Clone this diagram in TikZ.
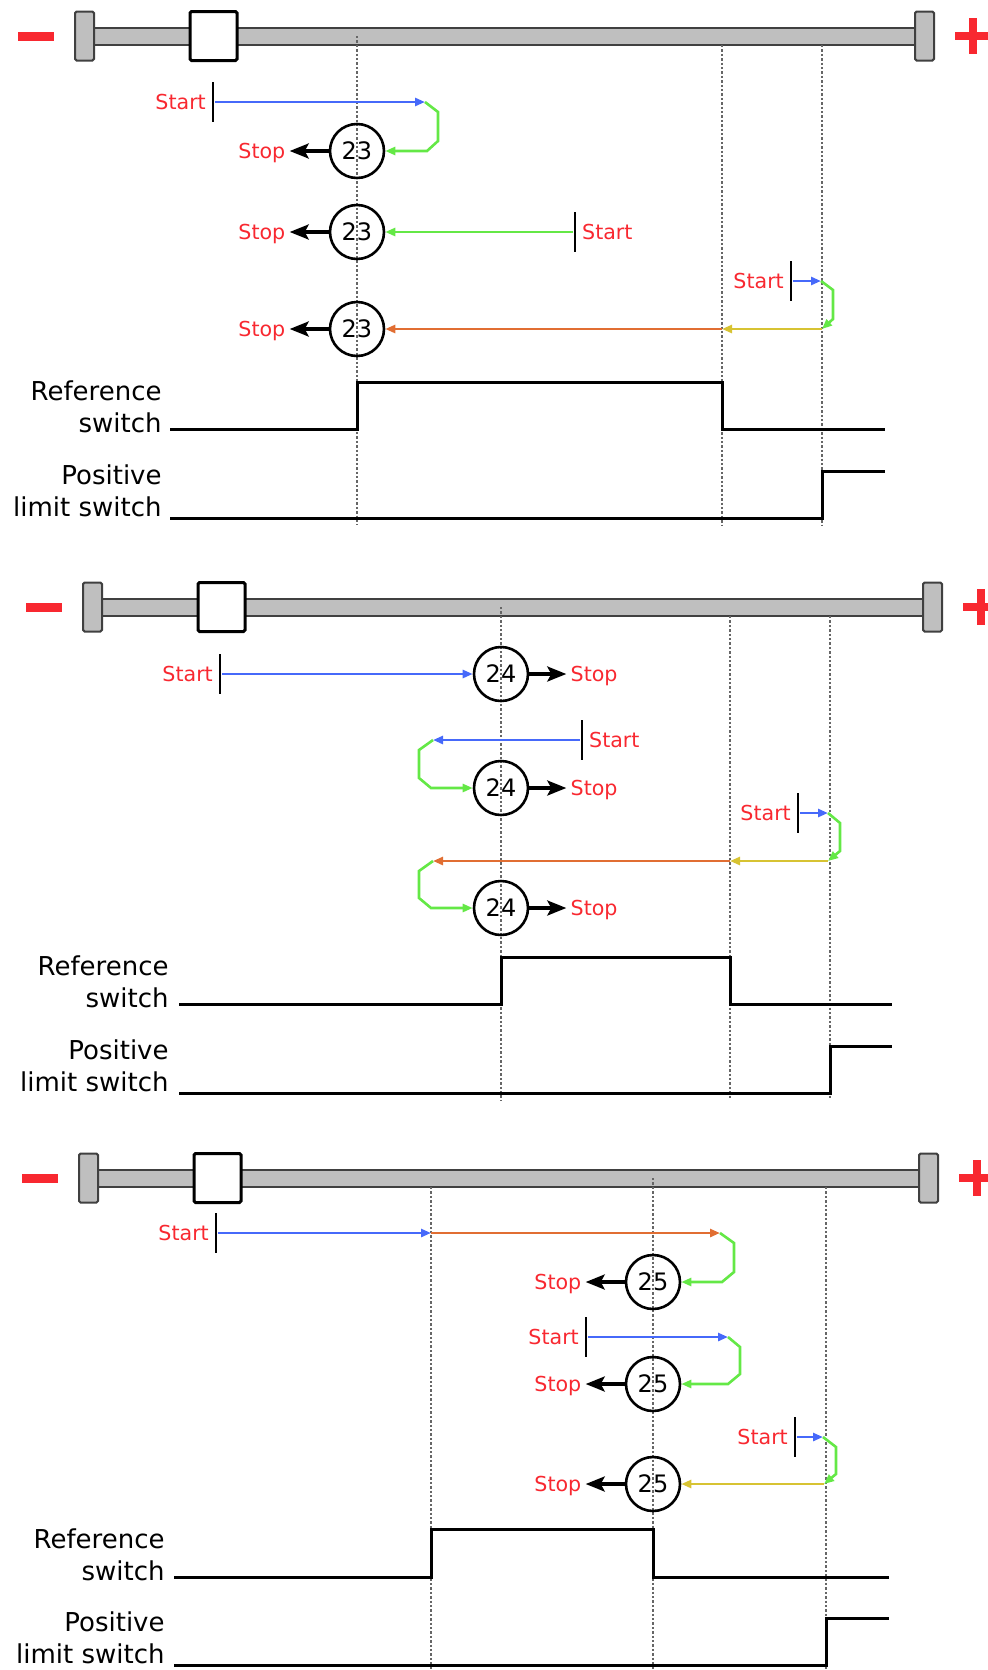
\documentclass[tikz,border=0pt]{standalone}
\usepackage{fontspec}
\setmainfont{DejaVu Sans}
\usetikzlibrary{arrows.meta,positioning}
\definecolor{mvred}{RGB}{248,40,48}
\definecolor{mvblue}{RGB}{70,105,250}
\definecolor{mvgreen}{RGB}{100,232,70}
\definecolor{mvorange}{RGB}{225,110,50}
\definecolor{mvyellow}{RGB}{215,195,50}

\begin{document}
\begin{tikzpicture}[x=0.5pt, y=-0.5pt,
  rail/.style={draw=black!75, fill=black!25, line width=1pt},
  railcap/.style={draw=black!75, fill=black!25, line width=1pt, rounded corners=0.8pt},
  carriage/.style={draw=black, fill=white, line width=1.5pt, rounded corners=0.8pt},
  guide/.style={black!60, line width=0.6pt, dash pattern=on 1.2pt off 1pt},
  signal/.style={line width=1.5pt},
  siglbl/.style={align=right, inner sep=0pt, font=\fontsize{13}{16}\selectfont},
  num/.style={circle, draw, line width=1.3pt, minimum size=27pt, inner sep=0pt, font=\fontsize{12}{12}\selectfont},
  tickmark/.style={fill=black, minimum width=1.4pt, minimum height=20pt, inner sep=0pt},
  lbl/.style={text=mvred, inner sep=2pt, text height=7.6pt, text depth=0pt, font=\fontsize{10.3}{12}\selectfont},
  move/.style={line width=1.3pt, -{Triangle[length=5pt,width=4pt]}},
  stoparrow/.style={line width=1.6pt, -{Stealth[length=9.5pt,width=7.5pt,inset=2pt]}}]
\useasboundingbox (0,0) rectangle (988,1670);

\foreach \dx/\yr in {0/36, 8/607, 4/1178}{
  \begin{scope}[shift={(\dx,\yr)}]
    \draw[mvred, line width=4.5pt] (18,0) -- (54,0);
    \draw[mvred, line width=4pt] (955,0) -- (991,0) (973,-18) -- (973,18);
    \draw[rail] (94,-8.5) rectangle (915,8.5);
    \draw[railcap] (75,-24.5) rectangle (94,24.5) (915,-24.5) rectangle (934,24.5);
    \draw[carriage] (190,-24.5) rectangle (237,24.5);
  \end{scope}
}
\foreach \x/\ya/\yb in {357/36/525, 722/45/525, 822/45/525, 501/607/1100, 730/616/1100,
  830/616/1100, 653/1178/1670, 431/1187/1670, 826/1187/1670}
  \draw[guide] (\x,\ya) -- (\x,\yb);

% switch signals
\draw[signal] (170,429) -- (357,429) -- (357,382) -- (722,382) -- (722,429) -- (885,429);
\draw[signal] (170,518) -- (822,518) -- (822,471) -- (885,471);
\draw[signal] (179,1004) -- (501,1004) -- (501,957) -- (730,957) -- (730,1004) -- (892,1004);
\draw[signal] (179,1093) -- (830,1093) -- (830,1046) -- (892,1046);
\draw[signal] (174,1577) -- (431,1577) -- (431,1529) -- (653,1529) -- (653,1577) -- (889,1577);
\draw[signal] (174,1665) -- (826,1665) -- (826,1618) -- (889,1618);
\node[siglbl, anchor=south east] (ref1) at (162,433) {Reference\\switch};
\node[siglbl, anchor=south east] (pos1) at (162,517) {Positive\\limit switch};
\node[siglbl, anchor=south east] (ref2) at (169,1008) {Reference\\switch};
\node[siglbl, anchor=south east] (pos2) at (169,1092) {Positive\\limit switch};
\node[siglbl, anchor=south east] (ref3) at (165,1581) {Reference\\switch};
\node[siglbl, anchor=south east] (pos3) at (165,1664) {Positive\\limit switch};

% method 23
\node[num] (c11) at (357,151) {23};
\node[num] (c12) at (357,232) {23};
\node[num] (c13) at (357,329) {23};
\node[tickmark] (t11) at (213,102) {};
\node[tickmark] (t12) at (575,232) {};
\node[tickmark] (t13) at (791,281) {};
\node[lbl, left=0.5pt of t11] (st11) {Start};
\node[lbl, right=0.5pt of t12] (st12) {Start};
\node[lbl, left=0.5pt of t13] (st13) {Start};
\foreach \n in {11,12,13}{
  \node[lbl, left=19.5pt of c\n] (sp\n) {Stop};
  \draw[stoparrow] (c\n) -- (sp\n);
}
\coordinate (k11) at (425,102);
\coordinate (k13) at (821,281);
\coordinate (m13) at (822,329);
\coordinate (r13) at (722,329);
\draw[move, mvblue] (t11) -- (k11);
\draw[move, mvgreen] (k11) -- ++(13,10) -- ++(0,29) -- ++(-11,10) -- (c11);
\draw[move, mvgreen] (t12) -- (c12);
\draw[move, mvblue] (t13) -- (k13);
\draw[move, mvgreen] (k13) -- ++(12,9) -- ++(0,29) -- (m13);
\draw[move, mvyellow] (m13) -- (r13);
\draw[move, mvorange] (r13) -- (c13);

% method 24
\node[num] (c21) at (501,674) {24};
\node[num] (c22) at (501,788) {24};
\node[num] (c23) at (501,908) {24};
\node[tickmark] (t21) at (220,674) {};
\node[tickmark] (t22) at (582,740) {};
\node[tickmark] (t23) at (798,813) {};
\node[lbl, left=0.5pt of t21] (st21) {Start};
\node[lbl, right=0.5pt of t22] (st22) {Start};
\node[lbl, left=0.5pt of t23] (st23) {Start};
\foreach \n in {21,22,23}{
  \node[lbl, right=18.5pt of c\n] (sp\n) {Stop};
  \draw[stoparrow] (c\n) -- (sp\n);
}
\coordinate (k22) at (433,740);
\coordinate (k23) at (828,813);
\coordinate (m23) at (828,861);
\coordinate (r23) at (730,861);
\coordinate (q23) at (433,861);
\draw[move, mvblue] (t21) -- (c21);
\draw[move, mvblue] (t22) -- (k22);
\draw[move, mvgreen] (k22) -- ++(-14,10) -- ++(0,28) -- ++(12,10) -- (c22);
\draw[move, mvblue] (t23) -- (k23);
\draw[move, mvgreen] (k23) -- ++(12,10) -- ++(0,28) -- (m23);
\draw[move, mvyellow] (m23) -- (r23);
\draw[move, mvorange] (r23) -- (q23);
\draw[move, mvgreen] (q23) -- ++(-14,10) -- ++(0,27) -- ++(12,10) -- (c23);

% method 25
\node[num] (c31) at (653,1282) {25};
\node[num] (c32) at (653,1384) {25};
\node[num] (c33) at (653,1484) {25};
\node[tickmark] (t31) at (216,1233) {};
\node[tickmark] (t32) at (586,1337) {};
\node[tickmark] (t33) at (795,1437) {};
\foreach \n in {31,32,33}{
  \node[lbl, left=0.5pt of t\n] (st\n) {Start};
  \node[lbl, left=19.5pt of c\n] (sp\n) {Stop};
  \draw[stoparrow] (c\n) -- (sp\n);
}
\coordinate (k31) at (431,1233);
\coordinate (r31) at (720,1233);
\coordinate (k32) at (728,1337);
\coordinate (k33) at (823,1437);
\coordinate (m33) at (824,1484);
\draw[move, mvblue] (t31) -- (k31);
\draw[move, mvorange] (k31) -- (r31);
\draw[move, mvgreen] (r31) -- ++(14,10) -- ++(0,29) -- ++(-12,10) -- (c31);
\draw[move, mvblue] (t32) -- (k32);
\draw[move, mvgreen] (k32) -- ++(12,10) -- ++(0,27) -- ++(-12,10) -- (c32);
\draw[move, mvblue] (t33) -- (k33);
\draw[move, mvgreen] (k33) -- ++(13,10) -- ++(0,27) -- (m33);
\draw[move, mvyellow] (m33) -- (c33);
\end{tikzpicture}
\end{document}
